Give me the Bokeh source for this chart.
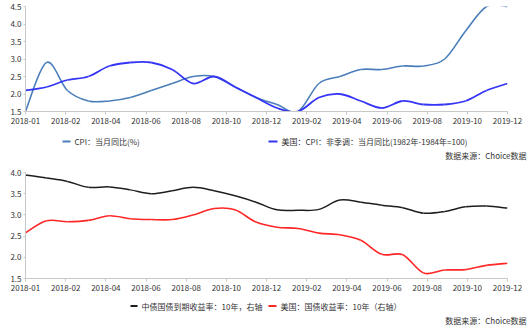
from bokeh.plotting import figure
from bokeh.layouts import column, row
from bokeh.models import (Range1d, FixedTicker, CustomJSTickFormatter,
                          PrintfTickFormatter, ColumnDataSource)
from bokeh.core.properties import value
from bokeh.embed import file_html
from bokeh.resources import INLINE

# ---------------- data ----------------
months = ["2018-01", "2018-02", "2018-03", "2018-04", "2018-05", "2018-06",
          "2018-07", "2018-08", "2018-09", "2018-10", "2018-11", "2018-12",
          "2019-01", "2019-02", "2019-03", "2019-04", "2019-05", "2019-06",
          "2019-07", "2019-08", "2019-09", "2019-10", "2019-11", "2019-12"]
tick_labels = ["2018-01", "2018-02", "2018-04", "2018-06", "2018-08", "2018-10",
               "2018-12", "2019-02", "2019-04", "2019-06", "2019-08", "2019-10",
               "2019-12"]
cn_cpi = [1.5, 2.9, 2.1, 1.8, 1.8, 1.9, 2.1, 2.3, 2.5, 2.5, 2.2, 1.9,
          1.7, 1.5, 2.3, 2.5, 2.7, 2.7, 2.8, 2.8, 3.0, 3.8, 4.5, 4.5]
us_cpi = [2.1, 2.2, 2.4, 2.5, 2.8, 2.9, 2.9, 2.7, 2.3, 2.5, 2.2, 1.9,
          1.6, 1.5, 1.9, 2.0, 1.8, 1.6, 1.8, 1.7, 1.7, 1.8, 2.1, 2.3]
cn_10y = [3.94, 3.87, 3.79, 3.65, 3.66, 3.59, 3.50, 3.57, 3.65, 3.57, 3.45, 3.30,
          3.12, 3.11, 3.13, 3.35, 3.30, 3.23, 3.17, 3.04, 3.08, 3.19, 3.21, 3.16]
us_10y = [2.58, 2.86, 2.84, 2.87, 2.98, 2.91, 2.89, 2.89, 3.00, 3.15, 3.12, 2.83,
          2.71, 2.68, 2.57, 2.53, 2.40, 2.07, 2.06, 1.63, 1.70, 1.71, 1.81, 1.86]

top_legend = ["CPI：当月同比(%)", "美国：CPI：非季调：当月同比(1982年-1984年=100)"]
bot_legend = ["中债国债到期收益率：10年，右轴", "美国：国债收益率：10年（右轴）"]
source_text = "数据来源：Choice数据"

C_STEEL = "#4A7EBB"
C_BLUE = "#3535F5"
C_BLACK = "#1E1E1E"
C_RED = "#FF2626"
AXIS_C = "#C8C8C8"
TEXT_C = "#333333"
FONT = "Noto Sans CJK SC"

BL, BR = 25, 23          # left / right borders (frame 25..507)
W = 530

xs = list(range(len(months)))
n_ticks = len(tick_labels)
span = len(months) - 1
tick_pos = [span * k / (n_ticks - 1) for k in range(n_ticks)]


def smooth_source(x, y):
    """Bezier segments (Catmull-Rom style) through the data points."""
    n = len(x)
    d = dict(x0=[], y0=[], x1=[], y1=[], cx0=[], cy0=[], cx1=[], cy1=[])
    for i in range(n - 1):
        ip = max(i - 1, 0)
        inn = min(i + 2, n - 1)
        d["x0"].append(x[i]); d["y0"].append(y[i])
        d["x1"].append(x[i + 1]); d["y1"].append(y[i + 1])
        d["cx0"].append(x[i] + (x[i + 1] - x[ip]) / 6)
        d["cy0"].append(y[i] + (y[i + 1] - y[ip]) / 6)
        d["cx1"].append(x[i + 1] - (x[inn] - x[i]) / 6)
        d["cy1"].append(y[i + 1] - (y[inn] - y[i]) / 6)
    return ColumnDataSource(d)


def chart(height, ymin, ymax, border_bottom):
    p = figure(width=W, height=height, output_backend="svg", toolbar_location=None,
               x_range=Range1d(0, span), y_range=Range1d(ymin, ymax),
               min_border_left=BL, min_border_right=BR, min_border_top=6,
               min_border_bottom=border_bottom)
    p.outline_line_color = None
    p.grid.visible = False
    p.background_fill_color = "white"
    p.border_fill_color = "white"
    p.xaxis.ticker = FixedTicker(ticks=tick_pos)
    p.xaxis.formatter = CustomJSTickFormatter(
        args=dict(labels=tick_labels, n=n_ticks - 1, span=span),
        code="return labels[Math.round(tick * n / span)];")
    yt = []
    v = ymin
    while v <= ymax + 1e-9:
        yt.append(round(v, 2))
        v += 0.5
    p.yaxis.ticker = FixedTicker(ticks=yt)
    p.yaxis.formatter = PrintfTickFormatter(format="%.1f")
    for ax in (p.xaxis[0], p.yaxis[0]):
        ax.axis_line_color = AXIS_C
        ax.major_tick_line_color = AXIS_C
        ax.minor_tick_line_color = None
        ax.major_tick_in = 0
        ax.major_label_text_font = FONT
        ax.major_label_text_font_size = "8px"
        ax.major_label_text_color = TEXT_C
    p.xaxis.major_tick_out = 3
    p.xaxis.major_label_standoff = 3
    p.yaxis.major_tick_out = 2
    p.yaxis.major_label_standoff = 2
    return p


def legend_fig(height, y_top, items, src_y):
    # full-width strip: data coordinates equal page pixels
    q = figure(width=W, height=height, output_backend="svg", toolbar_location=None,
               x_range=Range1d(0, W), y_range=Range1d(y_top + height, y_top),
               min_border=0, x_axis_location=None, y_axis_location=None)
    q.outline_line_color = None
    q.grid.visible = False
    q.background_fill_color = "white"
    q.border_fill_color = "white"
    for (x0, x1, ty, color, label) in items:
        q.segment(x0=[x0], y0=[ty], x1=[x1], y1=[ty], line_color=color, line_width=2)
        q.text(x=[x1 + 4], y=[ty], text=[label], text_font=value(FONT),
               text_font_size="8px", text_color=TEXT_C, text_baseline="middle",
               text_align="left")
    q.text(x=[526], y=[src_y], text=[source_text], text_font=value(FONT),
           text_font_size="8px", text_color=TEXT_C, text_baseline="middle",
           text_align="right")
    return q


# ---------------- top chart ----------------
p1 = chart(135, 1.5, 4.5, 24)
p1.bezier(x0="x0", y0="y0", x1="x1", y1="y1", cx0="cx0", cy0="cy0", cx1="cx1", cy1="cy1",
          source=smooth_source(xs, cn_cpi), line_color=C_STEEL, line_width=1.6)
p1.bezier(x0="x0", y0="y0", x1="x1", y1="y1", cx0="cx0", cy0="cy0", cx1="cx1", cy1="cy1",
          source=smooth_source(xs, us_cpi), line_color=C_BLUE, line_width=1.8)

l1 = legend_fig(31, 135, [(62, 70, 141, C_STEEL, top_legend[0]),
                          (268, 277, 141, C_BLUE, top_legend[1])], 155)

# ---------------- bottom chart ----------------
p2 = chart(134, 1.5, 4.0, 22)
p2.bezier(x0="x0", y0="y0", x1="x1", y1="y1", cx0="cx0", cy0="cy0", cx1="cx1", cy1="cy1",
          source=smooth_source(xs, cn_10y), line_color=C_BLACK, line_width=1.5)
p2.bezier(x0="x0", y0="y0", x1="x1", y1="y1", cx0="cx0", cy0="cy0", cx1="cx1", cy1="cy1",
          source=smooth_source(xs, us_10y), line_color=C_RED, line_width=1.6)

l2 = legend_fig(32, 300, [(130, 137, 305.5, C_BLACK, bot_legend[0]),
                          (268, 276, 305.5, C_RED, bot_legend[1])], 320)

layout = column(p1, row(l1), p2, row(l2), spacing=0)
open("out.html", "w").write(file_html(layout, INLINE))
